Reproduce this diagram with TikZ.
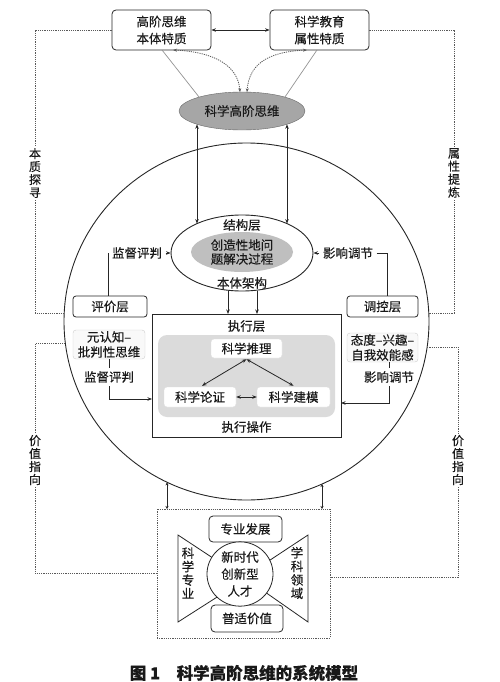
\documentclass[tikz,border=0pt]{standalone}
\usepackage{fontspec}
\setmainfont{Noto Sans CJK SC}[FakeBold=0.3]
\usetikzlibrary{arrows.meta,shapes.geometric}
\begin{document}
\begin{tikzpicture}[x=1pt,y=-1pt,
  every node/.style={font=\fontsize{12.5}{15}\selectfont, text=black!90},
  ln/.style={draw=black!85, line width=0.8pt},
  box/.style={draw=black!85, line width=0.8pt, rounded corners=4pt, align=center, inner sep=0pt},
  wbox/.style={fill=white, draw=gray!25, rounded corners=3pt, inner sep=0pt},
  lbox/.style={fill=gray!5, draw=gray!40, rounded corners=3pt, align=center, inner sep=0pt, font=\fontsize{12.5}{15}\selectfont},
  ell/.style={ellipse, inner sep=0pt, align=center},
  dline/.style={draw=black!65, line width=0.8pt, dash pattern=on 1.2pt off 1pt},
  arr/.style={ln, -{Stealth[length=4.5pt,width=3.5pt]}},
  darr/.style={ln, {Stealth[length=4.5pt,width=3.5pt]}-{Stealth[length=4.5pt,width=3.5pt]}},
  sarr/.style={ln, {Stealth[length=3pt,width=3pt]}-{Stealth[length=3pt,width=3pt]}},
  vtxt/.style={align=center, font=\fontsize{12}{13}\selectfont, inner sep=2pt}
]
\useasboundingbox (0,0) rectangle (500,682);

% big circle
\node[ellipse, draw=black!85, line width=0.9pt, minimum width=365pt, minimum height=357pt, inner sep=0pt] (C) at (246.5,321.5) {};

% top boxes
\node[box, minimum width=99pt, minimum height=40pt, font=\fontsize{12.5}{17}\selectfont] (A) at (161.5,30) {高阶思维\\本体特质};
\node[box, minimum width=99pt, minimum height=40pt, font=\fontsize{12.5}{17}\selectfont] (B) at (319.5,30) {科学教育\\属性特质};
\draw[darr] (A.east) -- (B.east -| B.west);

% top ellipse
\node[ell, draw=black!60, fill=gray!70, minimum width=126pt, minimum height=38pt] (E) at (242,111) {科学高阶思维};

\coordinate (a1) at (162,50); \coordinate (e1) at (199.1,97.1);
\coordinate (b1) at (317,50); \coordinate (e2) at (284.9,97.1);
\draw[gray!85, line width=0.7pt] (a1) -- (e1);
\draw[gray!85, line width=0.7pt] (b1) -- (e2);
\coordinate (a2) at (173,50); \coordinate (e3) at (240,92.2);
\coordinate (b2) at (307,50); \coordinate (e4) at (247,92.2);
\draw[dline, {Stealth[length=4pt,width=3pt]}-{Stealth[length=4pt,width=3pt]}] (a2) .. controls (215,52) and (238,66) .. (e3);
\draw[dline, {Stealth[length=4pt,width=3pt]}-{Stealth[length=4pt,width=3pt]}] (b2) .. controls (265,52) and (249,66) .. (e4);

% inner ellipse
\node[ell, draw=black!85, fill=white, line width=0.9pt, minimum width=142pt, minimum height=76pt] (I) at (242,253) {};
\node[ell, fill=gray!50, minimum width=102pt, minimum height=40pt, font=\fontsize{12.5}{14}\selectfont] (G) at (242,252) {创造性地问\\题解决过程};
\node (S1) at (242,225) {结构层};
\node (S2) at (242,283) {本体架构};

\coordinate (v1t) at (197,124.3); \coordinate (v1b) at (197,223.6);
\coordinate (v2t) at (287,124.3); \coordinate (v2b) at (287,223.6);
\draw[darr] (v1t) -- (v1b);
\draw[darr] (v2t) -- (v2b);

% left / right layers
\node[box, rounded corners=3pt, minimum width=74pt, minimum height=21pt] (P) at (110,306.5) {评价层};
\node[box, rounded corners=3pt, minimum width=71pt, minimum height=21pt] (Q) at (382.5,306.5) {调控层};
\node (J1) at (137,253) {监督评判};
\node (J2) at (348,253) {影响调节};
\draw[arr] (J1.east) -- (I.west);
\draw[arr] (J2.west) -- (I.east);
\draw[ln] (J1.west) -| ([xshift=-2pt]P.north);
\draw[ln] (J2.east) -| ([xshift=5pt]Q.north);

% execution box
\node[draw=black!85, line width=0.9pt, minimum width=189pt, minimum height=123pt, inner sep=0pt] (X) at (246.5,375.5) {};
\node[fill=gray!28, rounded corners=9pt, minimum width=177pt, minimum height=82pt, inner sep=0pt] (Gr) at (246.5,376) {};
\node (X1) at (246.5,326) {执行层};
\node (X2) at (246.5,427) {执行操作};
\coordinate (i1) at (228,290.5); \coordinate (x1) at (228,314);
\coordinate (i2) at (257,290.5); \coordinate (x2) at (257,314);
\draw[arr] (i1) -- (x1);
\draw[arr] (i2) -- (x2);

\node[wbox, minimum width=71pt, minimum height=19pt] (R) at (246.5,348.5) {科学推理};
\node[wbox, minimum width=72pt, minimum height=20pt] (L) at (200,397) {科学论证};
\node[wbox, minimum width=73pt, minimum height=20pt] (M) at (293.5,397) {科学建模};
\draw[darr] ([yshift=-1pt]R.south) -- ([xshift=2pt,yshift=1pt]L.north);
\draw[darr] ([yshift=-1pt]R.south) -- ([yshift=1pt]M.north);
\draw[darr] (L.east) -- (M.west);

% side boxes
\node[lbox, minimum width=72pt, minimum height=29pt] (Cm) at (109,344.5) {元认知–\\批判性思维};
\node[lbox, minimum width=71pt, minimum height=29pt] (D) at (382.5,347.5) {态度–兴趣–\\自我效能感};
\node (J3) at (109,377) {监督评判};
\node (J4) at (389,377) {影响调节};
\draw[ln] (Cm.south) -- (J3.north);
\draw[ln] (D.south -| J4.north) -- (J4.north);
\coordinate (xl) at (152,399);
\coordinate (xr) at (341,403);
\draw[arr] (J3.south) |- (xl);
\draw[arr] (J4.south) |- (xr);

% dashed side connections
\node[vtxt] (T1) at (35,173) {本\\质\\探\\寻};
\node[vtxt] (T2) at (454,173) {属\\性\\提\\炼};
\node[vtxt] (T3) at (35,460) {价\\值\\指\\向};
\node[vtxt] (T4) at (458,460) {价\\值\\指\\向};
\coordinate (c1) at (64.2,313);
\coordinate (c2) at (428.8,313);
\coordinate (c3) at (65.3,343);
\coordinate (c4) at (427.1,347);
\draw[dline] (A.west) -| (T1.north);
\draw[dline] (T1.south) |- (c1);
\draw[dline] (B.east) -| (T2.north);
\draw[dline] (T2.south) |- (c2);
\draw[dline] (c3) -| (T3.north);
\draw[dline] (c4) -| (T4.north);

% bottom box
\node[dline, draw, minimum width=173pt, minimum height=129pt, inner sep=0pt] (Bx) at (243.5,573.5) {};
\draw[dline] (T3.south) |- (Bx.west);
\draw[dline] (T4.south) |- ([yshift=-4pt]Bx.east);
\coordinate (cb1) at (167,482.4); \coordinate (bb1) at (167,509);
\coordinate (cb2) at (322,484); \coordinate (bb2) at (322,509);
\draw[sarr] (bb1) -- (cb1);
\draw[sarr] (bb2) -- (cb2);

\node[box, minimum width=73pt, minimum height=26pt] (Z1) at (245.5,529) {专业发展};
\node[box, minimum width=72pt, minimum height=27pt] (Z2) at (247,618.5) {普适价值};
\draw[ln, fill=white] (178,535) -- (225,566) -- (225,592) -- (178,622) -- cycle;
\draw[ln, fill=white] (308,535) -- (255,570) -- (255,585) -- (308,622) -- cycle;
\node[ell, draw=black!85, line width=0.8pt, fill=white, minimum width=66pt, minimum height=60pt, font=\fontsize{12.5}{17}\selectfont] (N) at (240,574) {新时代\\创新型\\人才};
\node[vtxt, font=\fontsize{12.5}{13.5}\selectfont] (K1) at (188,573) {科\\学\\专\\业};
\node[vtxt, font=\fontsize{12.5}{13.5}\selectfont] (K2) at (297,573) {学\\科\\领\\域};

% caption
\node[font=\fontsize{16.5}{18}\selectfont\bfseries] (cap) at (244,673) {图 1\quad 科学高阶思维的系统模型};
\end{tikzpicture}
\end{document}
